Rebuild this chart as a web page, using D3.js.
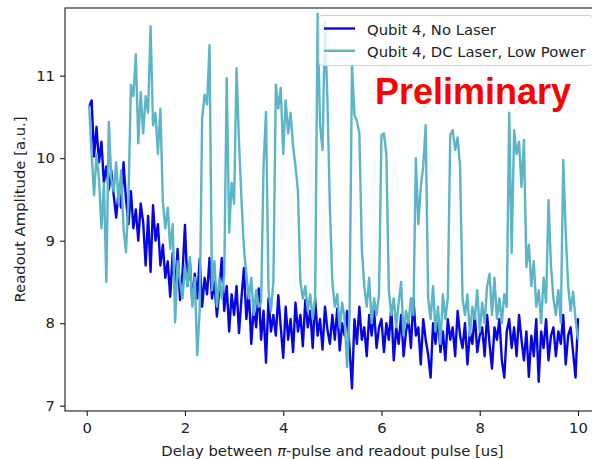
<!DOCTYPE html>
<html>
<head>
<meta charset="utf-8">
<script src="https://cdn.jsdelivr.net/npm/d3@7"></script>
<style>
  body { margin: 0; background: #fff; }
  svg text { font-family: "DejaVu Sans", sans-serif; }
</style>
</head>
<body>
<div id="chart"></div>
<script>
// Delay values [us] (shared by both traces)
const delayUs = [
  0.05,0.10,0.15,0.20,0.25,0.30,0.35,0.40,0.45,0.50, 0.55,0.60,0.65,0.70,0.75,0.80,0.85,0.90,0.95,1.00,
  1.05,1.10,1.15,1.20,1.25,1.30,1.35,1.40,1.45,1.50, 1.55,1.60,1.65,1.70,1.75,1.80,1.85,1.90,1.95,2.00,
  2.05,2.10,2.15,2.20,2.25,2.30,2.35,2.40,2.45,2.50, 2.55,2.60,2.65,2.70,2.75,2.80,2.85,2.90,2.95,3.00,
  3.05,3.10,3.15,3.20,3.25,3.30,3.35,3.40,3.45,3.50, 3.55,3.60,3.65,3.70,3.75,3.80,3.85,3.90,3.95,4.00,
  4.05,4.10,4.15,4.20,4.25,4.30,4.35,4.40,4.45,4.50, 4.55,4.60,4.65,4.70,4.75,4.80,4.85,4.90,4.95,5.00,
  5.05,5.10,5.15,5.20,5.25,5.30,5.35,5.40,5.45,5.50, 5.55,5.60,5.65,5.70,5.75,5.80,5.85,5.90,5.95,6.00,
  6.05,6.10,6.15,6.20,6.25,6.30,6.35,6.40,6.45,6.50, 6.55,6.60,6.65,6.70,6.75,6.80,6.85,6.90,6.95,7.00,
  7.05,7.10,7.15,7.20,7.25,7.30,7.35,7.40,7.45,7.50, 7.55,7.60,7.65,7.70,7.75,7.80,7.85,7.90,7.95,8.00,
  8.05,8.10,8.15,8.20,8.25,8.30,8.35,8.40,8.45,8.50, 8.55,8.60,8.65,8.70,8.75,8.80,8.85,8.90,8.95,9.00,
  9.05,9.10,9.15,9.20,9.25,9.30,9.35,9.40,9.45,9.50, 9.55,9.60,9.65,9.70,9.75,9.80,9.85,9.90,9.95,10.00
];

// Qubit 4, No Laser
const noLaser = [
  10.62,10.70,10.02,10.38,9.95,10.20,9.70,9.90,9.62,9.85,
  9.55,9.28,9.60,9.40,9.95,9.50,9.20,9.60,9.15,9.38,
  9.00,9.45,9.22,8.70,9.30,8.62,9.43,9.00,9.20,8.70,
  8.95,8.55,8.75,8.32,8.85,8.40,8.90,8.28,8.60,9.19,
  8.45,8.75,8.25,8.60,8.30,8.78,8.20,8.55,8.35,8.79,
  8.30,8.50,8.08,8.40,8.79,8.15,8.45,7.90,8.35,8.10,
  8.45,7.88,8.30,8.67,8.05,8.38,7.75,8.20,7.95,8.42,
  7.80,8.15,7.52,8.30,7.90,8.10,7.85,8.34,7.95,7.58,
  8.20,7.80,8.05,7.65,8.25,7.90,8.10,7.72,8.28,7.95,
  8.15,7.70,8.30,7.85,8.05,7.68,8.20,7.92,7.75,8.10,
  7.80,8.18,7.67,8.00,7.85,8.15,7.70,7.21,8.05,7.75,
  8.20,7.80,7.95,7.60,8.10,7.85,8.15,7.70,7.95,8.05,
  7.65,8.00,7.80,8.18,7.55,7.95,7.75,8.10,7.60,7.90,
  8.05,7.70,8.30,7.85,7.95,7.50,8.05,7.80,7.62,7.34,
  8.00,7.75,8.10,7.65,7.90,7.55,8.05,7.80,7.95,7.60,
  8.15,7.85,7.70,8.00,7.50,7.90,7.75,8.10,7.65,7.85,
  7.95,7.60,8.10,7.75,7.45,7.95,7.80,8.05,7.55,7.34,
  7.90,8.05,7.70,7.95,7.60,8.10,7.80,7.55,7.90,7.35,
  7.85,7.60,8.05,7.29,7.90,7.70,8.05,7.55,7.85,7.95,
  7.60,7.90,7.75,8.10,7.50,7.85,7.95,7.65,7.34,8.06
];

// Qubit 4, DC Laser, Low Power
const dcLaserLow = [
  10.64,10.05,9.55,10.05,9.75,9.15,9.70,8.50,10.44,9.75,
  9.60,9.95,9.45,9.85,9.15,8.86,9.50,10.89,10.75,11.26,
  10.18,10.80,10.30,10.75,10.55,11.60,10.40,10.55,10.05,10.60,
  9.47,9.15,9.40,8.90,9.20,8.01,8.75,8.50,8.30,8.70,
  8.45,8.80,8.20,8.55,7.61,8.15,10.48,10.77,10.65,11.37,
  8.40,8.75,8.20,8.55,8.30,8.60,10.97,9.10,9.70,9.45,
  11.09,10.20,9.50,8.91,8.60,8.30,8.55,8.10,8.40,8.20,
  8.25,9.92,10.56,8.40,8.15,8.50,10.89,10.60,10.85,10.05,
  10.70,10.30,10.55,10.15,9.90,9.60,8.50,8.30,8.45,8.15,
  8.35,8.05,8.30,11.75,10.40,10.10,11.65,10.70,9.40,8.50,
  8.20,8.35,7.95,8.25,8.05,7.47,8.10,11.13,10.52,10.45,
  10.30,8.90,8.45,8.20,8.55,8.00,8.30,8.10,8.35,10.28,
  10.30,10.04,8.40,8.10,8.30,7.95,8.25,8.50,7.85,8.15,
  8.00,8.30,8.10,10.00,9.20,9.65,9.90,10.40,8.30,8.05,
  8.45,7.90,8.20,7.75,8.35,8.05,8.30,10.28,10.34,10.10,
  10.25,9.90,8.30,8.10,8.35,7.85,8.20,8.05,8.40,7.90,
  8.25,8.00,8.45,8.60,8.10,8.55,8.05,8.30,8.00,8.35,
  8.20,10.55,8.85,10.34,10.05,10.20,9.65,10.22,8.68,8.95,
  8.45,8.75,8.20,8.40,8.00,8.55,8.25,9.49,8.70,8.30,
  8.10,8.40,8.00,9.98,9.10,8.45,8.15,8.38,8.05,7.80
];

const xTicks = [0, 2, 4, 6, 8, 10];
const yTicks = [7, 8, 9, 10, 11];
const seriesNames = ["Qubit 4, No Laser", "Qubit 4, DC Laser, Low Power"];
const seriesColors = ["#0505e6", "#5bb5c7"];

const width = 592, height = 459;
// plot box (right spine sits just outside the picture)
const box = {left: 65, top: 8, right: 600, bottom: 411};
const fontSize = 14.8;

const svg = d3.select("#chart").append("svg")
    .attr("width", width)
    .attr("height", height)
    .style("background", "#fff");

const x = d3.scaleLinear().domain([-0.4417, 10.448]).range([box.left, box.right]);
const y = d3.scaleLinear().domain([6.936, 11.82]).range([box.bottom, box.top]);

svg.append("clipPath").attr("id", "plotclip")
  .append("rect")
    .attr("x", box.left).attr("y", box.top)
    .attr("width", box.right - box.left).attr("height", box.bottom - box.top);

const line = d3.line()
    .x((d, i) => x(delayUs[i]))
    .y(d => y(d));

const plot = svg.append("g").attr("clip-path", "url(#plotclip)");
[noLaser, dcLaserLow].forEach(function(vals, k) {
    plot.append("path")
        .datum(vals)
        .attr("fill", "none")
        .attr("stroke", seriesColors[k])
        .attr("stroke-width", 2.4)
        .attr("stroke-linejoin", "round")
        .attr("d", line);
});

// spines
svg.append("rect")
    .attr("x", box.left).attr("y", box.top)
    .attr("width", box.right - box.left).attr("height", box.bottom - box.top)
    .attr("fill", "none")
    .attr("stroke", "#1a1a1a")
    .attr("stroke-width", 1.1);

// axes
const xAxis = svg.append("g")
    .attr("transform", "translate(0," + box.bottom + ")")
    .call(d3.axisBottom(x).tickValues(xTicks).tickSize(5).tickPadding(6).tickFormat(d3.format("d")));
const yAxis = svg.append("g")
    .attr("transform", "translate(" + box.left + ",0)")
    .call(d3.axisLeft(y).tickValues(yTicks).tickSize(5).tickPadding(5).tickFormat(d3.format("d")));

[xAxis, yAxis].forEach(function(g) {
    g.select(".domain").remove();
    g.attr("font-family", "DejaVu Sans").attr("font-size", fontSize);
    g.selectAll("line").attr("stroke", "#1a1a1a").attr("stroke-width", 1.1);
    g.selectAll("text").attr("fill", "#222");
});

// axis labels
const xl = svg.append("text")
    .attr("x", (box.left + box.right) / 2)
    .attr("y", 456)
    .attr("text-anchor", "middle")
    .attr("font-size", fontSize)
    .attr("fill", "#222");
xl.append("tspan").text("Delay between ");
xl.append("tspan").attr("font-style", "italic").text("\u03c0");
xl.append("tspan").text("-pulse and readout pulse [us]");

svg.append("text")
    .attr("transform", "translate(25," + ((box.top + box.bottom) / 2) + ") rotate(-90)")
    .attr("text-anchor", "middle")
    .attr("font-size", fontSize)
    .attr("fill", "#222")
    .text("Readout Amplitude [a.u.]");

// legend
const legend = svg.append("g");
legend.append("rect")
    .attr("x", 319).attr("y", 15.5)
    .attr("width", 273.5).attr("height", 50)
    .attr("rx", 3)
    .attr("fill", "#fff").attr("fill-opacity", 0.8)
    .attr("stroke", "#d0d0d0").attr("stroke-width", 1);

seriesNames.forEach(function(name, k) {
    const cy = 28.5 + k * 22.3;
    legend.append("line")
        .attr("x1", 324).attr("x2", 355)
        .attr("y1", cy).attr("y2", cy)
        .attr("stroke", seriesColors[k])
        .attr("stroke-width", 2.4);
    legend.append("text")
        .attr("x", 367).attr("y", cy + 6)
        .attr("font-size", fontSize)
        .attr("fill", "#222")
        .text(name);
});

// watermark
svg.append("text")
    .attr("x", 375).attr("y", 104)
    .style("font-family", "'Liberation Sans', Arial, sans-serif")
    .attr("font-weight", "bold")
    .attr("font-size", 36)
    .attr("fill", "#ff0000")
    .text("Preliminary");
</script>
</body>
</html>
